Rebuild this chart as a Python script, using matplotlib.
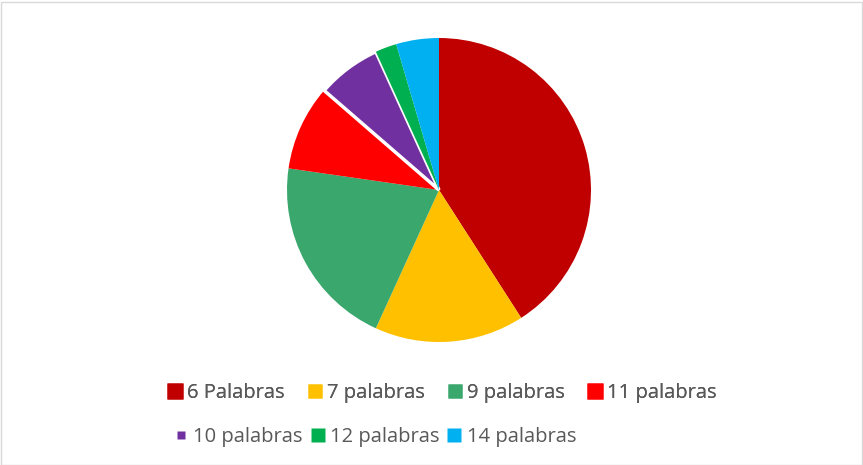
import matplotlib
matplotlib.use("Agg")
import matplotlib.pyplot as plt
from matplotlib.patches import Rectangle
from matplotlib.lines import Line2D

labels = ["6 Palabras", "7 palabras", "9 palabras", "11 palabras", "10 palabras", "12 palabras", "14 palabras"]
values = [18, 7, 9, 4, 3, 1, 2]
colors = ["#C00000", "#FFC000", "#3AA76D", "#FF0000", "#7030A0", "#00B050", "#00B0F0"]

W, H = 863, 465
fig = plt.figure(figsize=(W/100, H/100), dpi=100)
plt.rcParams['font.family'] = ['Open Sans', 'DejaVu Sans']

cx, cy, r = 439, 190, 152
ax = fig.add_axes([(cx - r)/W, (H - cy - r)/H, 2*r/W, 2*r/H])
wedges, _ = ax.pie(values, colors=colors, startangle=90, counterclock=False,
                   radius=1.0, wedgeprops=dict(linewidth=0))
wedges[4].set_edgecolor("white")
wedges[4].set_linewidth(2.5)
ax.set_xlim(-1.0, 1.0)
ax.set_ylim(-1.0, 1.0)
ax.set_aspect('equal')
ax.axis('off')

# chart border
fig.patches.append(Rectangle((0.5/W, 0.5/H), 1 - 2/W, 1 - 3/H, transform=fig.transFigure,
                             fill=False, edgecolor="#D9D9D9", linewidth=1))

text_color = "#595959"
row1 = [0, 1, 2, 3]
row2 = [4, 5, 6]
marker_pt = {0: 12.0, 3: 12.0, 4: 5.8}

def handles(idx):
    hs = []
    for i in idx:
        ms = marker_pt.get(i, 10.0)
        hs.append(Line2D([], [], linestyle='none', marker='s', markersize=ms,
                         markerfacecolor=colors[i], markeredgecolor='none', label=labels[i]))
    return hs

fs = 14.5
leg1 = fig.legend(handles=handles(row1), loc='center', bbox_to_anchor=(442/W, 1 - 393.3/H),
                  ncol=4, frameon=False, fontsize=fs, handlelength=0.8,
                  handletextpad=0.2, columnspacing=1.1, labelcolor=text_color,
                  borderpad=0, borderaxespad=0)
leg2 = fig.legend(handles=handles(row2), loc='center', bbox_to_anchor=(374.5/W, 1 - 436.7/H),
                  ncol=3, frameon=False, fontsize=fs, handlelength=0.8,
                  handletextpad=0.2, columnspacing=0.35, labelcolor=text_color,
                  borderpad=0, borderaxespad=0)
fig.add_artist(leg1)

fig.savefig("out.png", dpi=100)
